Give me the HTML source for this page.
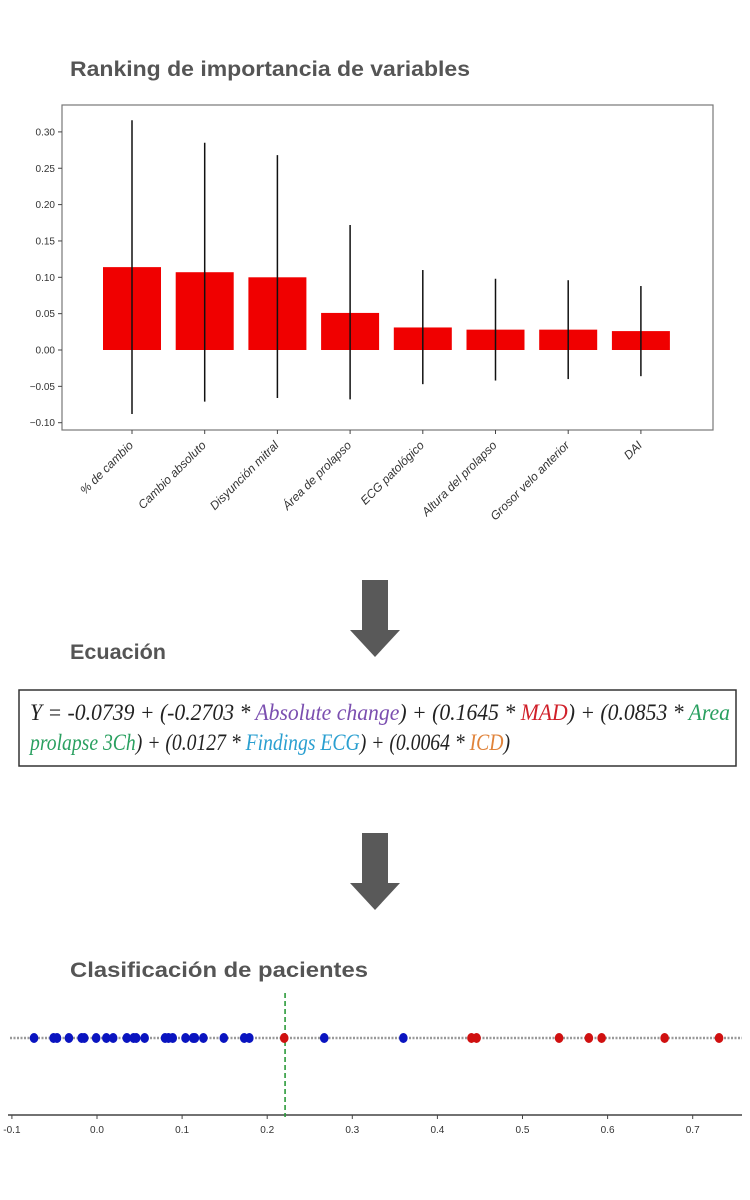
<!DOCTYPE html>
<html><head><meta charset="utf-8"><style>
html,body{margin:0;padding:0;background:#fff;}
svg{display:block;font-family:"Liberation Sans",sans-serif;}
</style></head><body>
<svg id="root" width="750" height="1200" viewBox="0 0 750 1200">
<text x="70" y="76" font-size="21" font-weight="bold" fill="#555" textLength="400" lengthAdjust="spacingAndGlyphs">Ranking de importancia de variables</text>
<g id="bar-chart"></g>
<g><rect x="362" y="580" width="26" height="52" fill="#595959"/><polygon points="350,630 400,630 375,657" fill="#595959"/></g>
<text x="70" y="659" font-size="21" font-weight="bold" fill="#555" textLength="96" lengthAdjust="spacingAndGlyphs">Ecuación</text>
<rect x="19" y="690" width="717" height="76" fill="#fff" stroke="#333" stroke-width="1.5"/>
<g font-family="'Liberation Serif',serif" font-style="italic" font-size="23" fill="#222">
<text x="30" y="720" textLength="700" lengthAdjust="spacingAndGlyphs">Y = -0.0739 + (-0.2703 * <tspan fill="#7b4fb0">Absolute change</tspan>) + (0.1645 * <tspan fill="#d0202a">MAD</tspan>) + (0.0853 * <tspan fill="#2aa060">Area</tspan></text>
<text x="30" y="750" textLength="480" lengthAdjust="spacingAndGlyphs"><tspan fill="#2aa060">prolapse 3Ch</tspan>) + (0.0127 * <tspan fill="#2a9fd0">Findings ECG</tspan>) + (0.0064 * <tspan fill="#e0833a">ICD</tspan>)</text>
</g>
<g><rect x="362" y="833" width="26" height="52" fill="#595959"/><polygon points="350,883 400,883 375,910" fill="#595959"/></g>
<text x="70" y="977" font-size="21" font-weight="bold" fill="#555" textLength="298" lengthAdjust="spacingAndGlyphs">Clasificación de pacientes</text>
<g id="strip-chart"></g>
</svg>
<script>
const NS='http://www.w3.org/2000/svg';
const categories=['% de cambio','Cambio absoluto','Disyunción mitral','Área de prolapso','ECG patológico','Altura del prolapso','Grosor velo anterior','DAI'];
const importance=[0.114,0.107,0.100,0.051,0.031,0.028,0.028,0.026];
const errTop=[0.316,0.285,0.268,0.172,0.110,0.098,0.096,0.088];
const errBottom=[-0.088,-0.071,-0.066,-0.068,-0.047,-0.042,-0.040,-0.036];
const yTicks=[0.30,0.25,0.20,0.15,0.10,0.05,0.00,-0.05,-0.10];
const blueScores=[-0.074,-0.051,-0.047,-0.033,-0.018,-0.015,-0.001,0.011,0.019,0.035,0.043,0.046,0.056,0.080,0.084,0.089,0.104,0.113,0.115,0.125,0.149,0.173,0.179,0.267,0.360];
const redScores=[0.220,0.440,0.446,0.543,0.578,0.593,0.667,0.731];
const threshold=0.221;
const xTicks=[-0.1,0.0,0.1,0.2,0.3,0.4,0.5,0.6,0.7];
function mk(p,t,a){const e=document.createElementNS(NS,t);for(const k in a)e.setAttribute(k,a[k]);p.appendChild(e);return e;}
const bc=document.getElementById('bar-chart');
const y=v=>350-v*727;
const bx=i=>132+i*72.7;
const frame=mk(bc,'rect',{x:62,y:105,width:651,height:325,fill:'none',stroke:'#777','stroke-width':1.2});


yTicks.forEach(t=>{
  const l=mk(bc,'line',{x1:58,x2:62,y1:y(t),y2:y(t),stroke:'#444'});
  
  
  const tx=mk(bc,'text',{x:55,y:y(t)+3.5,'font-size':10,'text-anchor':'end',fill:'#333'});
  tx.textContent=(t<0?'\u2212':'')+Math.abs(t).toFixed(2);
  
  
});
categories.forEach((c,i)=>{
  const cx=bx(i);
  const r=mk(bc,'rect',{x:cx-29,y:y(importance[i]),width:58,height:y(0)-y(importance[i]),fill:'#f00000'});
  
  
  const e=mk(bc,'line',{x1:cx,x2:cx,y1:y(errTop[i]),y2:y(errBottom[i]),stroke:'#111','stroke-width':1.5});
  
  
  const tk=mk(bc,'line',{x1:cx,x2:cx,y1:430,y2:434,stroke:'#444'});
  
  
  const tx=mk(bc,'text',{x:cx+2,y:446,'font-size':12,'font-style':'italic','text-anchor':'end',fill:'#333',transform:`rotate(-45 ${cx+2} 446)`});
  tx.textContent=c;
  
  
});
const sc=document.getElementById('strip-chart');
const sx=v=>97+v*851;
const base=mk(sc,'line',{x1:10,x2:742,y1:1038,y2:1038,stroke:'#999','stroke-width':2.5,'stroke-dasharray':'2 1.5'});


const ax=mk(sc,'line',{x1:8,x2:742,y1:1115,y2:1115,stroke:'#444','stroke-width':1.5});


xTicks.forEach(t=>{
  const l=mk(sc,'line',{x1:sx(t),x2:sx(t),y1:1115,y2:1119,stroke:'#444'});
  
  
  const tx=mk(sc,'text',{x:sx(t),y:1133,'font-size':10,'text-anchor':'middle',fill:'#333'});
  tx.textContent=t.toFixed(1);
  
  
});
const th=mk(sc,'line',{x1:sx(threshold),x2:sx(threshold),y1:993,y2:1117,stroke:'#2a9a3a','stroke-width':1.6,'stroke-dasharray':'5 3'});


blueScores.forEach(v=>{
  const d=mk(sc,'ellipse',{cx:sx(v),cy:1038,rx:4.3,ry:5,fill:'#0a14c0'});
  
  
});
redScores.forEach(v=>{
  const d=mk(sc,'ellipse',{cx:sx(v),cy:1038,rx:4.3,ry:5,fill:'#d01010'});
  
  
});
</script>
</body></html>
